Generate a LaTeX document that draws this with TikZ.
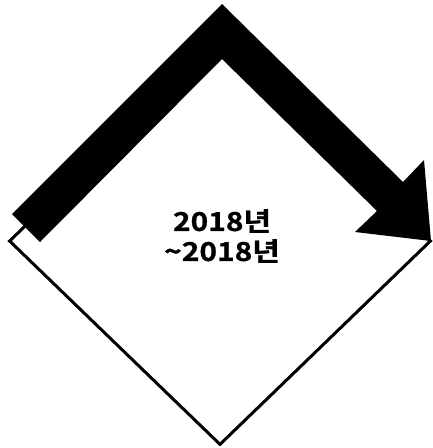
\documentclass[tikz,border=0pt]{standalone}
\usepackage{fontspec}
\newfontfamily\krfont{Noto Sans CJK KR}[BoldFont={Noto Sans CJK KR Bold},BoldFeatures={FakeBold=0.8},FakeStretch=1.15]
\usetikzlibrary{shapes.geometric}
\begin{document}
\begin{tikzpicture}[
x=1pt,
y=-1pt,
period/.style={
draw,
diamond,
fill=white,
line width=3pt,
minimum width=422pt,
minimum height=408pt,
inner sep=0pt,
},
years/.style={
align=center,
inner sep=0pt,
font=\krfont\bfseries\fontsize{26pt}{30pt}\selectfont,
},
bentarrow/.style={
fill=black,
draw=none,
},
]
\useasboundingbox (0,0) rectangle (433,448);
\node[period] at (220,241) (box) {};
\node[years] at (222,236) (label) {2018년\\\textasciitilde2018년};

\fill[bentarrow] (12,214) -- (222,4) -- (403,182) -- (424,160) -- (431,241)
  -- (355,232) -- (377,211) -- (222,59) -- (40,242) -- cycle;

\end{tikzpicture}
\end{document}
